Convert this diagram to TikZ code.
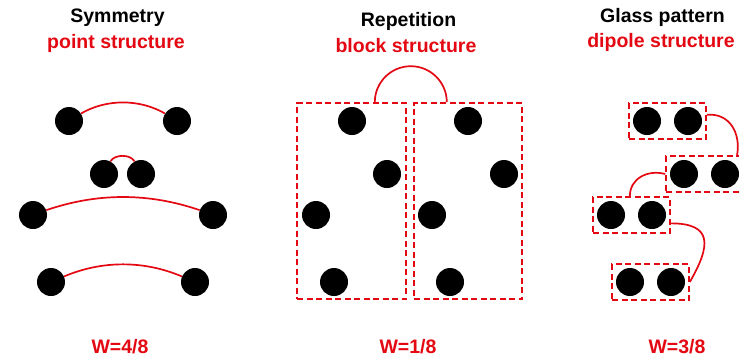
\documentclass[tikz,border=0pt]{standalone}
\usepackage{fontspec}
\setmainfont{Liberation Sans}
\definecolor{mred}{RGB}{228,8,18}
\begin{document}
\begin{tikzpicture}[x=1pt,y=-1pt,
  dot/.style={circle,fill=black,minimum size=28pt,inner sep=0pt},
  link/.style={draw=mred,line width=1.7pt},
  group/.style={draw=mred,line width=1.6pt,dash pattern=on 6pt off 3.5pt,
    rectangle,inner sep=0pt},
  pair/.style={group,minimum width=77pt,minimum height=36pt},
  block/.style={group,minimum height=196pt},
  title/.style={anchor=base,inner sep=0pt,font=\fontsize{19.5}{23}\selectfont\bfseries},
  sub/.style={title,text=mred}]
\useasboundingbox (0,0) rectangle (739,360);
\clip (0,0) rectangle (739,360);

% ---- headings and weights
\node[title] (t1) at (117.5,22) {Symmetry};
\node[sub]   (u1) at (116,48) {point structure};
\node[title] (t2) at (408.5,26) {Repetition};
\node[sub]   (u2) at (406,52) {block structure};
\node[title] (t3) at (662.5,22) {Glass pattern};
\node[sub]   (u3) at (661,47) {dipole structure};
\node[sub]   (w1) at (120,353) {W=4/8};
\node[sub]   (w2) at (408,353) {W=1/8};
\node[sub]   (w3) at (677,353) {W=3/8};

% ---- symmetry: mirrored point pairs
\node[dot] (s1a) at (69,121) {};
\node[dot] (s1b) at (177,121) {};
\node[dot] (s2a) at (104,174) {};
\node[dot] (s2b) at (141,174) {};
\node[dot] (s3a) at (33,215) {};
\node[dot] (s3b) at (213,215) {};
\node[dot] (s4a) at (51,282) {};
\node[dot] (s4b) at (195,282) {};
\draw[link] (s1a.32) to[out=30,in=150,looseness=0.9] (s1b.148);
\draw[link] (s2a.63) to[out=60,in=120,looseness=0.9] (s2b.117);
\draw[link] (s3a.20) to[out=19,in=161,looseness=0.9] (s3b.160);
\draw[link] (s4a.23) to[out=23,in=157,looseness=0.9] (s4b.157);

% ---- repetition: two identical blocks
\node[block,minimum width=109pt] (bl) at (351.5,201) {};
\node[block,minimum width=108pt] (br) at (468,201) {};
\node[dot] (l1) at (352,121) {};
\node[dot] (l2) at (387,174) {};
\node[dot] (l3) at (316,215) {};
\node[dot] (l4) at (334,282) {};
\node[dot] (r1) at (468,121) {};
\node[dot] (r2) at (504,174) {};
\node[dot] (r3) at (432,215) {};
\node[dot] (r4) at (450,282) {};
% y axis points down, so the upper half-circle runs from 180 to 360 degrees
\draw[link] (bl.north east) ++(-32,0) arc[start angle=180,end angle=360,radius=36];

% ---- glass pattern: dipoles
\node[pair] (g1) at (667.5,121) {};
\node[pair] (g2) at (704.5,174) {};
\node[pair] (g3) at (631.5,215) {};
\node[pair] (g4) at (650.5,282) {};
\foreach \g in {g1,g2,g3,g4}{
  \node[dot] (\g a) at ([xshift=-20.5pt]\g.center) {};
  \node[dot] (\g b) at ([xshift=20.5pt]\g.center) {};
}
\draw[link] (g1.9) to[out=5,in=80,looseness=1.15] (g2.30);
\draw[link] (g2.west) to[out=165,in=90,looseness=1.1] (g3.95);
\draw[link] (g3.-12) to[out=0,in=60,looseness=1.75] (g4.east);
\end{tikzpicture}
\end{document}
